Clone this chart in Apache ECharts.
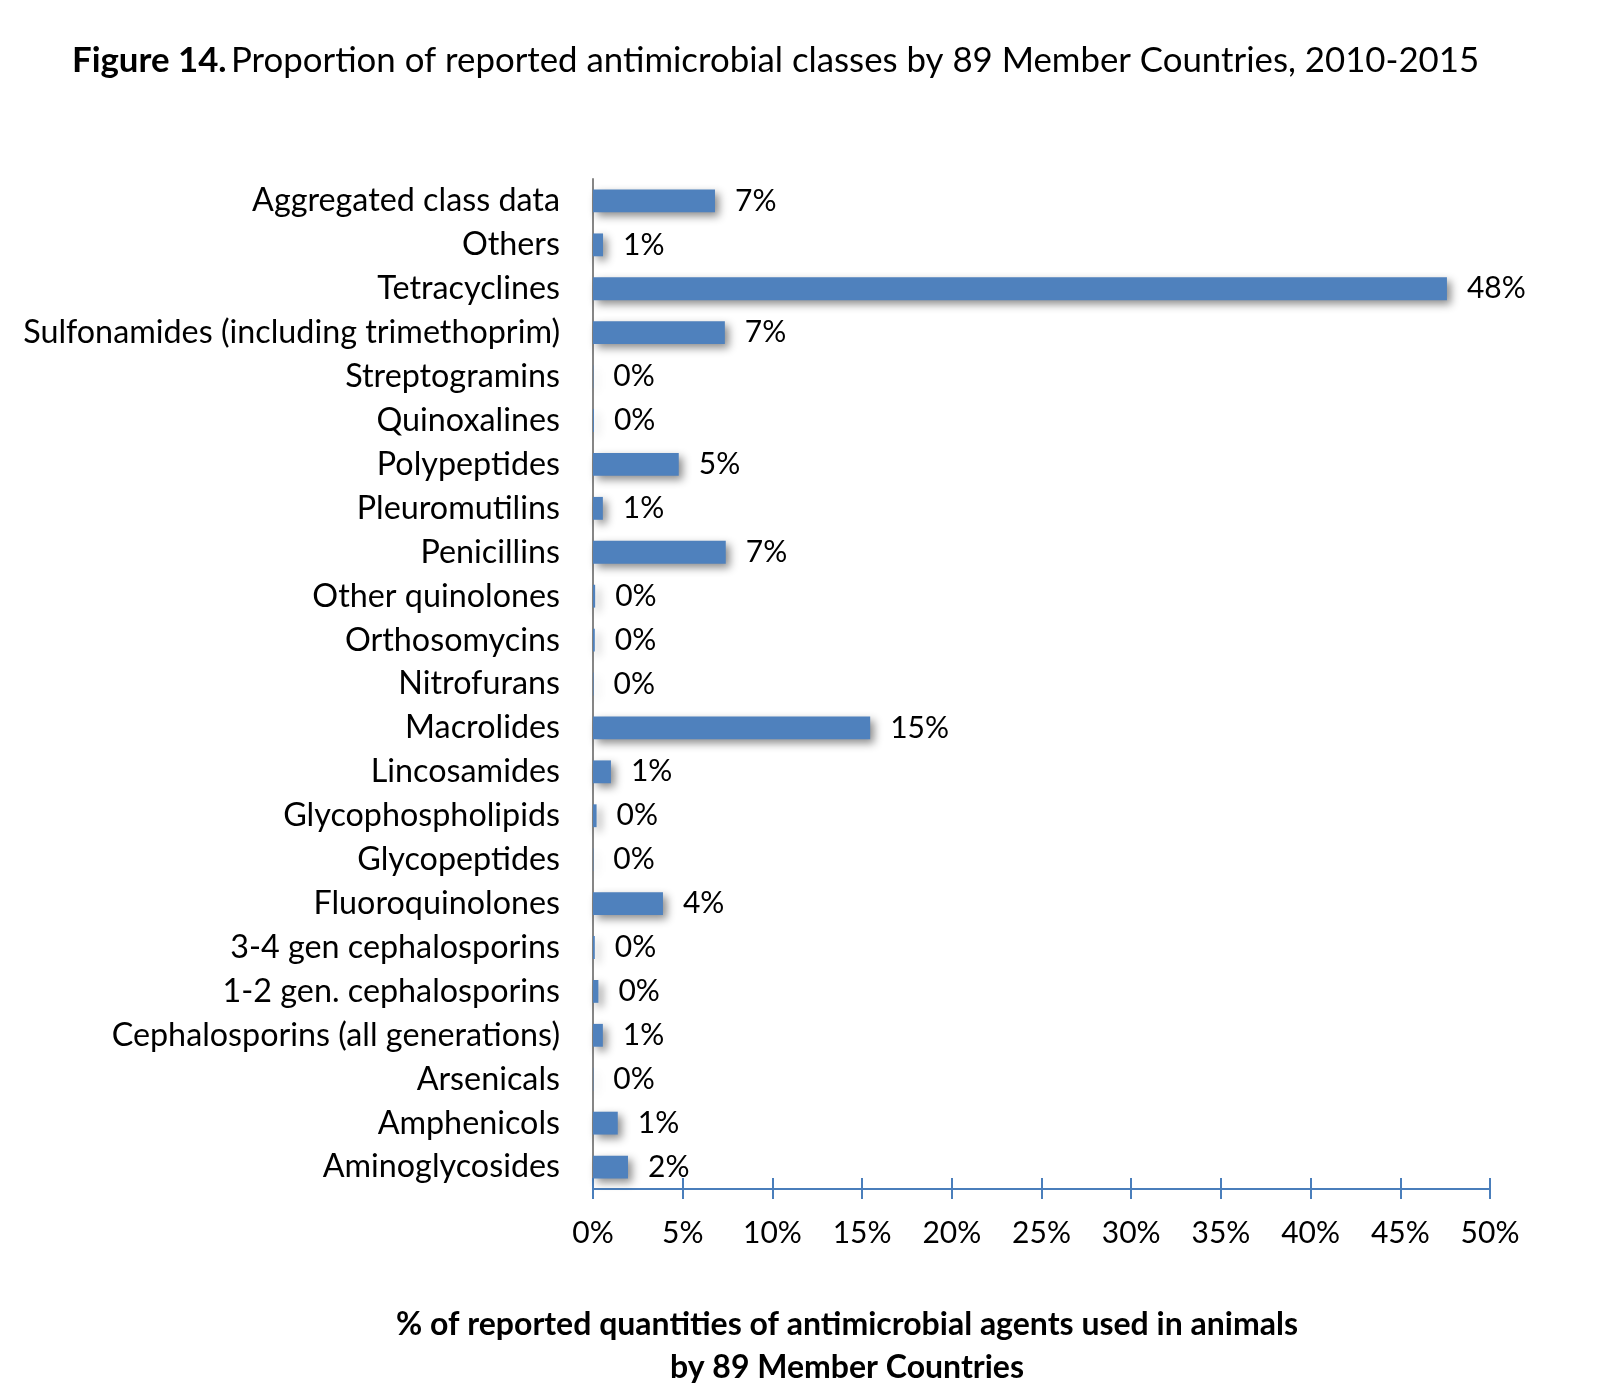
<!DOCTYPE html>
<html>
<head>
<meta charset="utf-8">
<script src="https://cdn.jsdelivr.net/npm/echarts@6/dist/echarts.min.js"></script>
<style>
html,body{margin:0;padding:0;background:#fff;}
#chart{width:1604px;height:1386px;}
</style>
</head>
<body>
<div id="chart"></div>
<script>
const categories = [
  "Aggregated class data", "Others", "Tetracyclines", "Sulfonamides (including trimethoprim)",
  "Streptogramins", "Quinoxalines", "Polypeptides", "Pleuromutilins", "Penicillins",
  "Other quinolones", "Orthosomycins", "Nitrofurans", "Macrolides", "Lincosamides",
  "Glycophospholipids", "Glycopeptides", "Fluoroquinolones", "3-4 gen cephalosporins",
  "1-2 gen. cephalosporins", "Cephalosporins (all generations)", "Arsenicals",
  "Amphenicols", "Aminoglycosides"
];
const values = [
  6.8, 0.56, 47.6, 7.35,
  0.02, 0.05, 4.78, 0.55, 7.4,
  0.12, 0.1, 0.03, 15.45, 1.0,
  0.2, 0.02, 3.9, 0.1,
  0.3, 0.55, 0.02,
  1.38, 1.95
];
const xTicks = [0, 5, 10, 15, 20, 25, 30, 35, 40, 45, 50];

const FONT = 'Lato';
const chart = echarts.init(document.getElementById('chart'), null, {renderer: 'canvas'});
const option = {
  backgroundColor: '#ffffff',
  animation: false,
  textStyle: {fontFamily: FONT},
  title: {
    text: '{b|Figure 14.} {n|Proportion of reported antimicrobial classes by 89 Member Countries, 2010-2015}',
    left: 67,
    top: 38,
    textStyle: {
      rich: {
        b: {fontFamily: FONT, fontWeight: 'bold', fontSize: 34.8, color: '#000'},
        n: {fontFamily: FONT, fontWeight: 'normal', fontSize: 34.8, color: '#000'}
      }
    }
  },
  grid: {left: 593, right: 114, top: 179, bottom: 197, containLabel: false},
  xAxis: [{
    type: 'value',
    min: xTicks[0],
    max: xTicks[xTicks.length - 1],
    interval: 5,
    position: 'bottom',
    axisLine: {show: true, lineStyle: {color: '#4A7EBB', width: 2}},
    axisTick: {show: true, inside: false, length: 10, lineStyle: {color: '#4A7EBB', width: 2}},
    axisLabel: {formatter: '{value}%', fontSize: 30, color: '#000', margin: 29, fontFamily: FONT},
    splitLine: {show: false}
  }, {
    type: 'value',
    min: xTicks[0],
    max: xTicks[xTicks.length - 1],
    interval: 5,
    position: 'bottom',
    axisLine: {show: false},
    axisTick: {show: true, inside: true, length: 11, lineStyle: {color: '#4A7EBB', width: 2}},
    axisLabel: {show: false},
    splitLine: {show: false}
  }],
  yAxis: {
    type: 'category',
    data: categories,
    inverse: true,
    axisLine: {show: true, lineStyle: {color: '#868686', width: 2}},
    axisTick: {show: false},
    axisLabel: {fontSize: 32.3, color: '#000', margin: 33, fontFamily: FONT}
  },
  series: [{
    type: 'bar',
    data: values,
    xAxisIndex: 0,
    barCategoryGap: '48%',
    itemStyle: {
      color: '#4F81BD',
      shadowBlur: 8,
      shadowColor: 'rgba(0,0,0,0.45)',
      shadowOffsetX: 4,
      shadowOffsetY: 4
    },
    label: {
      show: true,
      position: 'right',
      distance: 20,
      fontSize: 30,
      color: '#000',
      fontFamily: FONT,
      formatter: p => Math.round(p.value) + '%'
    }
  }],
  graphic: [{
    type: 'text',
    x: 847,
    y: 1303,
    style: {
      text: '% of reported quantities of antimicrobial agents used in animals\nby 89 Member Countries',
      fontFamily: FONT,
      fontWeight: 'bold',
      fontSize: 32,
      lineHeight: 43,
      fill: '#000',
      textAlign: 'center'
    }
  }]
};
chart.setOption(option);
</script>
</body>
</html>
